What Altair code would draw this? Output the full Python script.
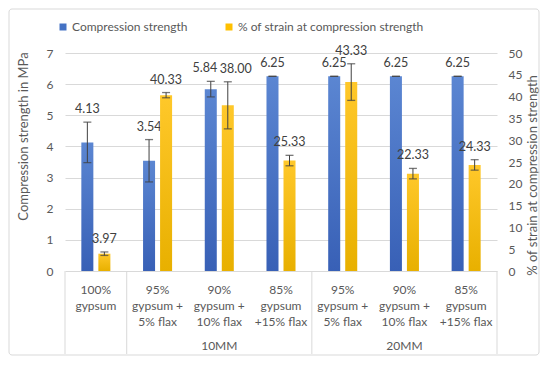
import altair as alt
import pandas as pd

# ---------------- data ----------------
keys = ["c1", "c2", "c3", "c4", "c5", "c6", "c7"]
cat_labels = [
    "100%\ngypsum",
    "95%\ngypsum +\n5% flax",
    "90%\ngypsum +\n10% flax",
    "85%\ngypsum\n+15% flax",
    "95%\ngypsum +\n5% flax",
    "90%\ngypsum +\n10% flax",
    "85%\ngypsum\n+15% flax",
]
groups = ["10MM", "20MM"]
group_anchor = ["c3", "c6"]
comp = [4.13, 3.54, 5.84, 6.25, 6.25, 6.25, 6.25]
comp_err = [0.65, 0.68, 0.25, 0.0, 0.0, 0.0, 0.0]
strain = [3.97, 40.33, 38.00, 25.33, 43.33, 22.33, 24.33]
strain_err = [0.4, 0.6, 5.4, 1.2, 4.2, 1.2, 1.2]
series_names = ["Compression strength", "% of strain at compression strength"]
left_ticks = [0, 1, 2, 3, 4, 5, 6, 7]
right_ticks = [0, 5, 10, 15, 20, 25, 30, 35, 40, 45, 50]
crowded = ["c3"]  # category whose two value labels are nudged apart

W, H = 432, 218
FONT = "Lato"
TXT = "#595959"
GRID = "#D9D9D9"


def make_df(vals, errs, ser):
    return pd.DataFrame({
        "cat": keys,
        "ser": ser,
        "v": vals,
        "lo": [v - e for v, e in zip(vals, errs)],
        "hi": [v + e for v, e in zip(vals, errs)],
        "lab": [f"{v:.2f}" for v in vals],
    })


df_c = make_df(comp, comp_err, "a")
df_s = make_df(strain, strain_err, "b")

x_scale = alt.Scale(domain=keys, paddingInner=0, paddingOuter=0)
x_enc = alt.X("cat:N", scale=x_scale, axis=None)
xo_enc = alt.XOffset("ser:N", scale=alt.Scale(domain=["a", "b"], paddingInner=0.294, paddingOuter=0.96))

blue_grad = alt.Gradient(
    gradient="linear",
    stops=[alt.GradientStop(color="#5B86D2", offset=0), alt.GradientStop(color="#3860B6", offset=1)],
    x1=0, x2=0, y1=0, y2=1,
)
yellow_grad = alt.Gradient(
    gradient="linear",
    stops=[alt.GradientStop(color="#FFC82A", offset=0), alt.GradientStop(color="#E8B000", offset=1)],
    x1=0, x2=0, y1=0, y2=1,
)

left_axis = alt.Axis(
    title="Compression strength in MPa", values=left_ticks, grid=True, gridColor=GRID,
    domain=False, ticks=False, labelPadding=12, labelFont=FONT, labelFontSize=12,
    labelColor=TXT, titleFont=FONT, titleFontSize=13, titleFontWeight="normal",
    titleColor=TXT, titleX=-42, titleY=83, titleAngle=270, titleAlign="center",
    titleBaseline="middle",
)
right_axis = alt.Axis(
    title="% of strain at compression strength", orient="right", values=right_ticks,
    grid=False, domain=False, ticks=False, labelPadding=11, labelFont=FONT,
    labelFontSize=12, labelColor=TXT, titleFont=FONT, titleFontSize=13,
    titleFontWeight="normal", titleColor=TXT, titleX=35, titleY=122, titleAngle=270,
    titleAlign="center", titleBaseline="middle",
)


def series_layer(df, grad, domain, axis, nudge):
    base = alt.Chart(df).encode(x=x_enc, xOffset=xo_enc)

    def y(f):
        return alt.Y(f"{f}:Q", scale=alt.Scale(domain=domain, nice=False, zero=True), axis=axis)

    in_crowd = alt.FieldOneOfPredicate(field="cat", oneOf=crowded)
    bars = base.mark_bar(color=grad).encode(y=y("v"))
    rule = base.mark_rule(color="#404040", strokeWidth=1).encode(y=y("lo"), y2="hi:Q")
    tlo = base.mark_tick(color="#404040", size=8, thickness=1.3).encode(y=y("lo"))
    thi = base.mark_tick(color="#404040", size=8, thickness=1.3).encode(y=y("hi"))
    txt = base.transform_filter(~in_crowd).mark_text(
        dy=-13, fontSize=12.5, font=FONT, color="#404040"
    ).encode(y=y("hi"), text="lab:N")
    txt2 = base.transform_filter(in_crowd).mark_text(
        dy=-13, dx=nudge, fontSize=12.5, font=FONT, color="#404040"
    ).encode(y=y("hi"), text="lab:N")
    return alt.layer(bars, rule, tlo, thi, txt, txt2)


blue = series_layer(df_c, blue_grad, [0, 7], left_axis, -6)
yellow = series_layer(df_s, yellow_grad, [0, 50], right_axis, 8)

# outer border
border = alt.Chart(pd.DataFrame({"a": [0]})).mark_rect(
    fill="transparent", stroke=GRID, strokeWidth=1, cornerRadius=3
).encode(x=alt.value(-56), x2=alt.value(W + 42), y=alt.value(-44), y2=alt.value(H + 84))

# category separators
sep_start = alt.Chart(pd.DataFrame({"cat": ["c1", "c2", "c5"]})).mark_rule(
    color=GRID, strokeWidth=1
).encode(x=alt.X("cat:N", scale=x_scale, axis=None, bandPosition=0),
         y=alt.value(H), y2=alt.value(H + 83))
sep_end = alt.Chart(pd.DataFrame({"cat": ["c7"]})).mark_rule(
    color=GRID, strokeWidth=1
).encode(x=alt.X("cat:N", scale=x_scale, axis=None, bandPosition=1),
         y=alt.value(H), y2=alt.value(H + 83))

# category labels
cats = alt.Chart(pd.DataFrame({"cat": keys, "lab": cat_labels})).mark_text(
    lineBreak="\n", lineHeight=16, baseline="top", fontSize=12, font=FONT, color=TXT
).encode(x=x_enc, y=alt.value(H + 14), text="lab:N")

grp = alt.Chart(pd.DataFrame({"cat": group_anchor, "lab": groups})).mark_text(
    baseline="middle", fontSize=12, font=FONT, color=TXT
).encode(x=x_enc, y=alt.value(H + 75), text="lab:N")

# legend carrier (zero-size rects)
legend_layer = alt.Chart(pd.DataFrame({"s": series_names})).mark_rect().encode(
    x=alt.value(0), x2=alt.value(0), y=alt.value(0), y2=alt.value(0),
    color=alt.Color("s:N", scale=alt.Scale(domain=series_names, range=["#4472C4", "#FFC000"]),
                    legend=alt.Legend(orient="none", legendX=-8, legendY=-32,
                                      direction="horizontal", title=None, symbolType="square",
                                      symbolSize=49, labelFont=FONT, labelFontSize=12,
                                      labelColor=TXT, columnPadding=35, labelOffset=3,
                                      labelLimit=0, symbolStrokeWidth=0, padding=0)),
)

chart = alt.layer(border, sep_start, sep_end, cats, grp, legend_layer, blue, yellow).resolve_scale(
    y="independent"
).properties(
    width=W, height=H,
    padding={"left": 57, "top": 45, "right": 43, "bottom": 85},
    autosize=alt.AutoSizeParams(type="none"),
).configure_view(stroke=None)

chart.save("out.html", embed_options={"renderer": "svg", "actions": False})
